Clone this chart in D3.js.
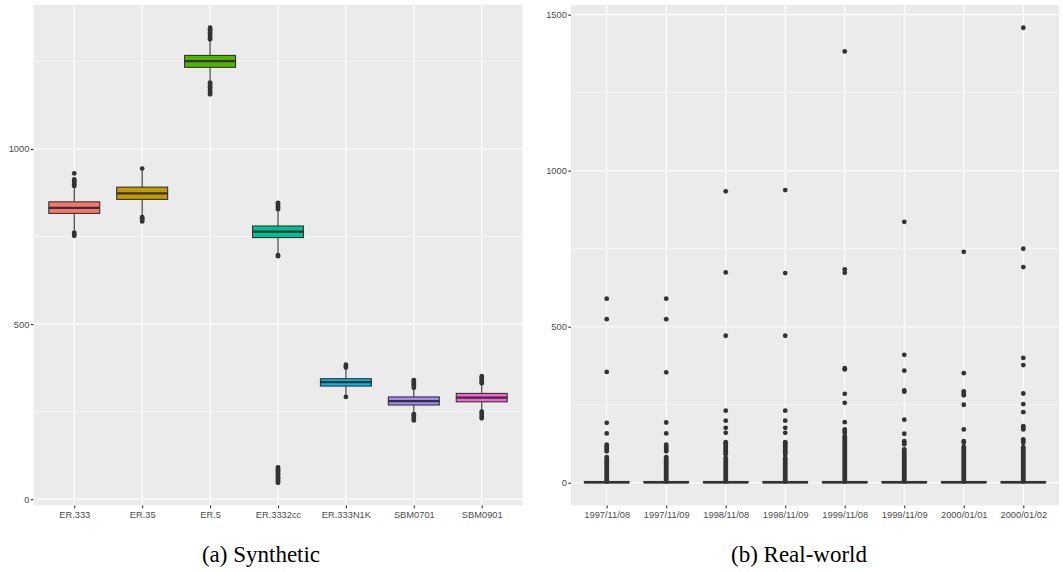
<!doctype html>
<html>
<head>
<meta charset="UTF-8">
<title>boxplots</title>
<script src="https://d3js.org/d3.v7.min.js"></script>
<style>
body { margin: 0; background: #fff; }
</style>
</head>
<body>
<svg width="1063" height="572"></svg>
<script>
// (a) synthetic
var synCats = ["ER.333", "ER.35", "ER.5", "ER.3332cc", "ER.333N1K", "SBM0701", "SBM0901"];
var synQ1  = [816, 856, 1233, 747, 323, 269, 278];
var synMed = [832, 873, 1251, 764, 334, 280, 290];
var synQ3  = [849, 891, 1267, 780, 344, 292, 302];
var synLo  = [768, 810, 1193, 700, 296, 246, 254];
var synHi  = [888, 938, 1308, 823, 370, 313, 326];
var synOut = [
    [930, 913, 909, 904, 899, 894, 761, 757, 752],
    [944, 805, 801, 797, 793],
    [1346, 1342, 1338, 1333, 1328, 1323, 1318, 1313, 1189, 1186, 1181, 1176, 1171, 1166, 1161, 1156],
    [846, 843, 838, 833, 828, 697, 694, 91, 87, 83, 79, 75, 71, 67, 63, 59, 55, 51, 47],
    [384, 380, 376, 292],
    [340, 338, 333, 328, 323, 318, 243, 240, 235, 230, 225],
    [351, 346, 341, 336, 331, 250, 246, 241, 236, 231]
];
var synColors = ["#F8766D", "#C49A00", "#53B400", "#00C094", "#00B6EB", "#A58AFF", "#FB61D7"];
var synTicks = [0, 500, 1000];
var synMinor = [250, 750, 1250];

// (b) real-world
var realCats = ["1997/11/08", "1997/11/09", "1998/11/08", "1998/11/09", "1999/11/08", "1999/11/09", "2000/01/01", "2000/01/02"];
var realQ1  = [0, 0, 0, 0, 0, 0, 0, 0];
var realMed = [1, 1, 1, 1, 1, 1, 1, 1];
var realQ3  = [4, 4, 4, 4, 4, 4, 4, 4];
var realLo  = [0, 0, 0, 0, 0, 0, 0, 0];
var realHi  = [8, 8, 8, 8, 8, 8, 8, 8];
// top of the solid run of overlapping outliers above each box
var realDense = [82, 82, 80, 80, 150, 107, 115, 114];
var realOut = [
    [590, 524, 355, 192, 158, 122, 116, 111, 106, 101],
    [590, 524, 354, 193, 158, 122, 116, 111, 106, 101],
    [934, 674, 471, 231, 199, 176, 160, 130, 126, 121, 116, 111, 106, 101, 96, 91],
    [938, 672, 471, 231, 199, 176, 160, 130, 126, 121, 116, 111, 106, 101, 96, 91],
    [1382, 684, 673, 367, 363, 285, 256, 194, 171, 166, 161],
    [836, 410, 359, 296, 292, 202, 157, 133, 128, 123],
    [740, 351, 293, 286, 280, 250, 171, 133, 128],
    [1458, 750, 691, 400, 377, 286, 252, 226, 181, 176, 171, 139, 134, 128]
];
var realTicks = [0, 500, 1000, 1500];
var realMinor = [250, 750, 1250];

var svg = d3.select("svg");

panel({
    left: 33.5, right: 522.5, top: 5, bottom: 505.5,
    cats: synCats, q1: synQ1, med: synMed, q3: synQ3, lo: synLo, hi: synHi,
    out: synOut, dense: null, fills: synColors,
    ticks: synTicks, minor: synMinor,
    caption: "(a) Synthetic", capX: 261
});

panel({
    left: 571, right: 1059, top: 5, bottom: 505.5,
    cats: realCats, q1: realQ1, med: realMed, q3: realQ3, lo: realLo, hi: realHi,
    out: realOut, dense: realDense, fills: null,
    ticks: realTicks, minor: realMinor,
    caption: "(b) Real-world", capX: 799
});

function panel(c) {
    var all = [].concat(c.lo, c.hi, c.q1, c.q3, d3.merge(c.out));
    var ext = d3.extent(all);
    var pad = (ext[1] - ext[0]) * 0.05;

    var x = d3.scalePoint().domain(c.cats).range([c.left, c.right]).padding(0.6);
    var y = d3.scaleLinear().domain([ext[0] - pad, ext[1] + pad]).range([c.bottom, c.top]);
    var bw = x.step() * 0.75;

    var g = svg.append("g");

    g.append("rect")
        .attr("x", c.left).attr("y", c.top)
        .attr("width", c.right - c.left).attr("height", c.bottom - c.top)
        .attr("fill", "#EBEBEB");

    g.selectAll("line.minor").data(c.minor).enter().append("line")
        .attr("x1", c.left).attr("x2", c.right)
        .attr("y1", function(d) { return y(d); })
        .attr("y2", function(d) { return y(d); })
        .attr("stroke", "#fff").attr("stroke-width", 0.55);

    g.selectAll("line.major").data(c.ticks).enter().append("line")
        .attr("x1", c.left).attr("x2", c.right)
        .attr("y1", function(d) { return y(d); })
        .attr("y2", function(d) { return y(d); })
        .attr("stroke", "#fff").attr("stroke-width", 1.1);

    g.selectAll("line.vgrid").data(c.cats).enter().append("line")
        .attr("x1", function(d) { return x(d); })
        .attr("x2", function(d) { return x(d); })
        .attr("y1", c.top).attr("y2", c.bottom)
        .attr("stroke", "#fff").attr("stroke-width", 1.1);

    var box = g.selectAll("g.box").data(c.cats).enter().append("g");

    // outliers
    box.each(function(d, i) {
        var b = d3.select(this);
        if (c.dense) {
            b.append("line")
                .attr("x1", x(d)).attr("x2", x(d))
                .attr("y1", y(c.q3[i])).attr("y2", y(c.dense[i]))
                .attr("stroke", "#333").attr("stroke-width", 4.8)
                .attr("stroke-linecap", "round");
        }
        b.selectAll("circle").data(c.out[i]).enter().append("circle")
            .attr("cx", x(d))
            .attr("cy", function(v) { return y(v); })
            .attr("r", 2.4)
            .attr("fill", "#333");
    });

    // whiskers
    box.append("line")
        .attr("x1", function(d) { return x(d); })
        .attr("x2", function(d) { return x(d); })
        .attr("y1", function(d, i) { return y(c.q3[i]); })
        .attr("y2", function(d, i) { return y(c.hi[i]); })
        .attr("stroke", "#333").attr("stroke-width", 1.1);
    box.append("line")
        .attr("x1", function(d) { return x(d); })
        .attr("x2", function(d) { return x(d); })
        .attr("y1", function(d, i) { return y(c.q1[i]); })
        .attr("y2", function(d, i) { return y(c.lo[i]); })
        .attr("stroke", "#333").attr("stroke-width", 1.1);

    box.append("rect")
        .attr("x", function(d) { return x(d) - bw / 2; })
        .attr("y", function(d, i) { return y(c.q3[i]); })
        .attr("width", bw)
        .attr("height", function(d, i) { return y(c.q1[i]) - y(c.q3[i]); })
        .attr("fill", function(d, i) { return c.fills ? c.fills[i] : "#fff"; })
        .attr("stroke", "#333").attr("stroke-width", 1.1);

    box.append("line")
        .attr("x1", function(d) { return x(d) - bw / 2; })
        .attr("x2", function(d) { return x(d) + bw / 2; })
        .attr("y1", function(d, i) { return y(c.med[i]); })
        .attr("y2", function(d, i) { return y(c.med[i]); })
        .attr("stroke", "#333").attr("stroke-width", 2.2);

    // axes
    var ya = g.append("g").attr("transform", "translate(" + c.left + ",0)")
        .call(d3.axisLeft(y).tickValues(c.ticks).tickFormat(d3.format("d"))
            .tickSize(2.7).tickPadding(1.5));
    var xa = g.append("g").attr("transform", "translate(0," + c.bottom + ")")
        .call(d3.axisBottom(x).tickSize(2.7).tickPadding(3.5));
    [ya, xa].forEach(function(a) {
        a.attr("font-family", null).attr("font-size", null);
        a.select(".domain").remove();
        a.selectAll("line").attr("stroke", "#333").attr("stroke-width", 1.1);
        a.selectAll("text").attr("fill", "#4D4D4D")
            .style("font-size", "9.3px")
            .style("font-family", "'Liberation Sans', Arial, sans-serif");
    });

    svg.append("text")
        .attr("x", c.capX).attr("y", 562)
        .attr("text-anchor", "middle")
        .style("font-family", "'Liberation Serif', 'Times New Roman', serif")
        .style("font-size", "23px")
        .attr("fill", "#000")
        .text(c.caption);
}
</script>
</body>
</html>
